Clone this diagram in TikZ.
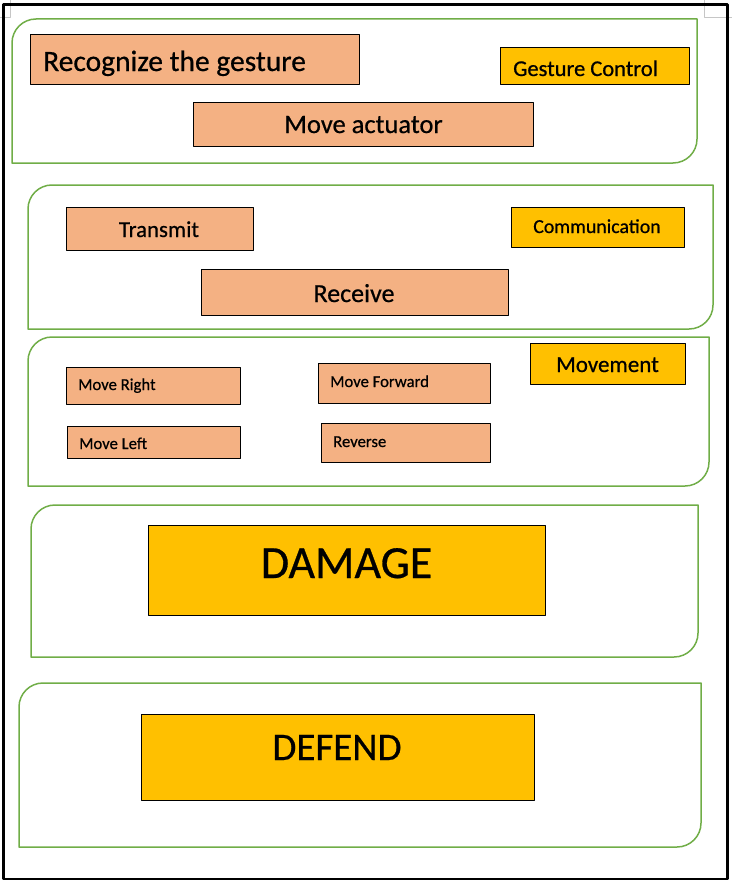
\documentclass[tikz,border=0pt]{standalone}
\usepackage{fontspec}
\setmainfont{Carlito}[FakeBold=0.6]
\definecolor{salmon}{HTML}{F4B183}
\definecolor{gold}{HTML}{FFC000}
\definecolor{leaf}{HTML}{70AD47}
\newcommand{\fs}[1]{\fontsize{#1}{#1}\selectfont}
\begin{document}
\begin{tikzpicture}[x=1pt,y=-1pt,line join=round,
		panel/.style={draw=leaf,line width=1.5pt},
		salmonbox/.style={draw=black,fill=salmon,line width=0.9pt},
		goldbox/.style={draw=black,fill=gold,line width=0.9pt},
		lbl/.style={inner sep=0pt,anchor=base}]
	\useasboundingbox (0,0) rectangle (732,883);
	% page frame
	\draw[gray!45,line width=0.6pt] (0,17)--(10,17)--(10,0) (704,0)--(704,17)--(732,17);
	\draw[line width=2.6pt] (3.5,4.5) rectangle (727.5,879);
	% panels, rounded at top left and bottom right
	\foreach \xa/\ya/\xb/\yb in {12/19/697/163, 28/185/713/329, 28/337/709/486, 31/505/698/657, 19/683/701/847}
		\draw[panel] (\xa,\yb) -- (\xa,\ya+24) arc[start angle=180,end angle=270,radius=24] -- (\xb,\ya) -- (\xb,\yb-24) arc[start angle=0,end angle=90,radius=24] -- cycle;
	% gesture control
	\draw[salmonbox] (30,34) rectangle (359,84);
	\node[lbl,anchor=base west,font=\fs{29.5}] (recog) at (43,71) {Recognize the gesture};
	\draw[goldbox] (500,47) rectangle (689,84);
	\node[lbl,anchor=base west,font=\fs{22.5}] (gestctl) at (513,76) {Gesture Control};
	\draw[salmonbox] (193,102) rectangle (533,146);
	\node[lbl,font=\fs{26.5}] (actuator) at (363.5,133) {Move actuator};
	% communication
	\draw[salmonbox] (66,207) rectangle (253,250);
	\node[lbl,font=\fs{22.8}] (transmit) at (159,237) {Transmit};
	\draw[goldbox] (511,207) rectangle (684,247);
	\node[lbl,font=\fs{19.8}] (comm) at (597,233) {Communication};
	\draw[salmonbox] (201,269) rectangle (508,315);
	\node[lbl,font=\fs{26}] (receive) at (354,302) {Receive};
	% movement
	\draw[goldbox] (530,343) rectangle (685,384);
	\node[lbl,font=\fs{23}] (movement) at (607.5,372) {Movement};
	\draw[salmonbox] (66,367) rectangle (240,404);
	\node[lbl,anchor=base west,font=\fs{16.7}] (right) at (78,390) {Move Right};
	\draw[salmonbox] (67,426) rectangle (240,458);
	\node[lbl,anchor=base west,font=\fs{16.7}] (left) at (79,449) {Move Left};
	\draw[salmonbox] (318,363) rectangle (490,403);
	\node[lbl,anchor=base west,font=\fs{16.7}] (forward) at (330,387) {Move Forward};
	\draw[salmonbox] (321,423) rectangle (490,462);
	\node[lbl,anchor=base west,font=\fs{16.7}] (reverse) at (333,447) {Reverse};
	% damage and defend
	\draw[goldbox] (148,525) rectangle (545,615);
	\node[lbl,font=\fs{46}] (damage) at (346.5,578) {DAMAGE};
	\draw[goldbox] (141,714) rectangle (534,800);
	\node[lbl,font=\fs{39}] (defend) at (337,760) {DEFEND};
\end{tikzpicture}
\end{document}
